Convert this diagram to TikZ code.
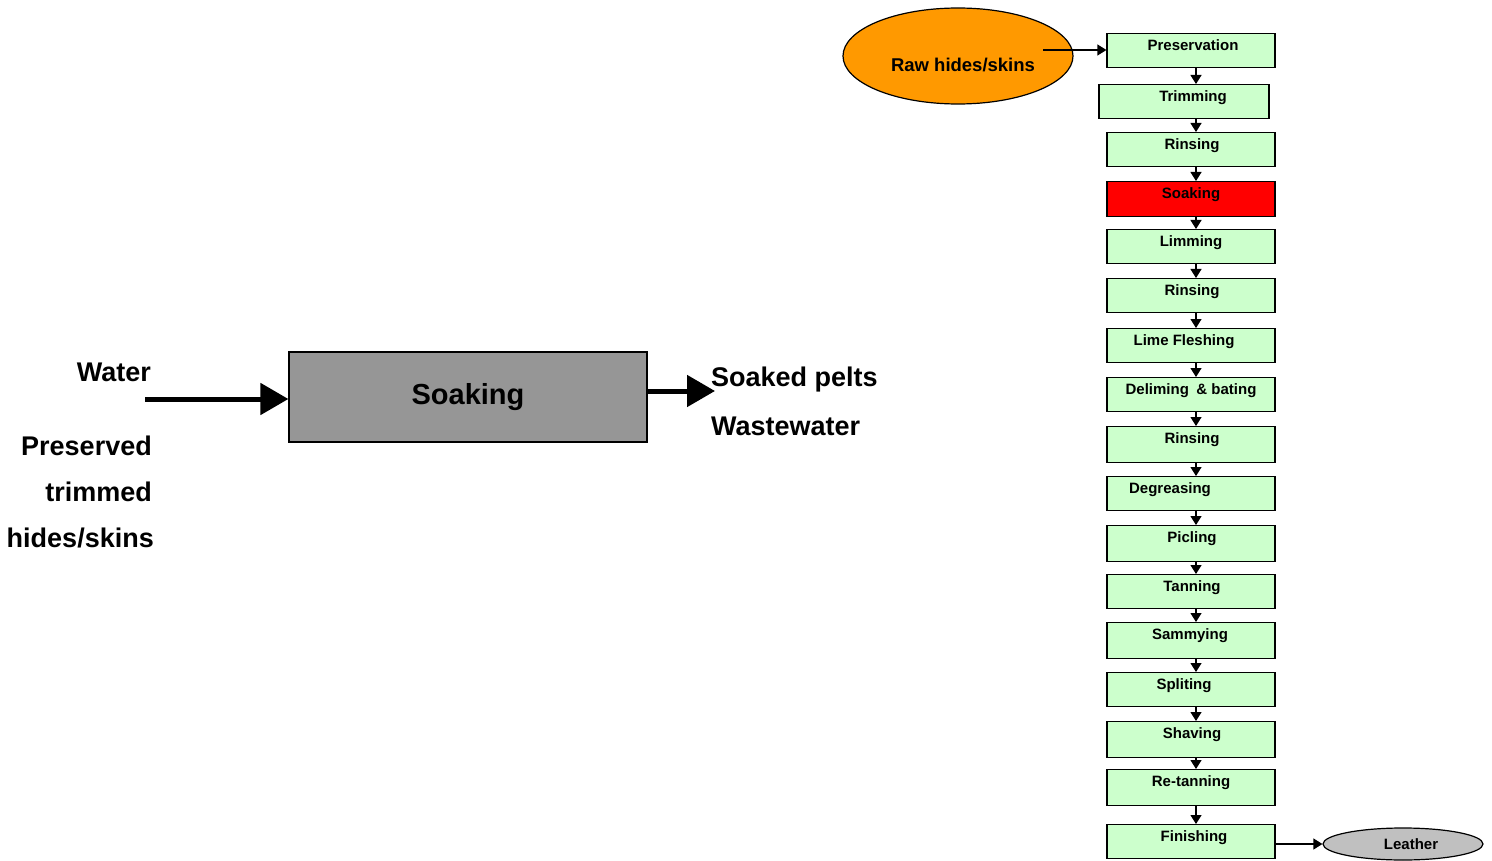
\documentclass[tikz,border=0pt]{standalone}
\usepackage{fontspec}
\setmainfont{Liberation Sans}
\usetikzlibrary{arrows.meta,shapes.geometric}
\definecolor{procgreen}{HTML}{CCFFCC}
\definecolor{raworange}{HTML}{FF9900}
\definecolor{soakgray}{HTML}{969696}
\definecolor{leathergray}{HTML}{C0C0C0}
\definecolor{hotred}{HTML}{FF0000}
\begin{document}
\begin{tikzpicture}[x=1pt,y=-1pt,
  stepbox/.style={draw=black, line width=1.2pt, fill=procgreen, minimum width=168pt,
    inner xsep=0pt, inner ysep=0pt, text height=17pt, text depth=#1, anchor=north,
    font=\fontsize{15}{18}\selectfont\bfseries},
  stepbox/.default=17pt,
  smallarrow/.style={line width=1.2pt, -{Triangle[width=11pt,length=9pt]}},
  bigarrow/.style={line width=5pt, -{Triangle[width=31pt,length=28pt]}},
  biglabel/.style={font=\fontsize{27}{30}\selectfont\bfseries, inner sep=0pt},
  ell/.style={ellipse, draw=black, line width=1.2pt, inner sep=0pt}]
\useasboundingbox (0,0) rectangle (1492,861);

% ---- left part ----
\node[draw=black, line width=1.2pt, fill=soakgray, minimum width=358pt, minimum height=90pt,
  inner sep=0pt, font=\fontsize{29}{32}\selectfont\bfseries] (soak) at (468,397) {Soaking};
\coordinate (win) at (145,399);
\coordinate (wout) at (715,391);
\draw[bigarrow] (win) -- (soak.west |- win);
\draw[bigarrow] (soak.east |- wout) -- (wout);

\node[biglabel, anchor=base east] (water) at (151,381) {Water};
\node[biglabel, anchor=base east] (pres) at (152,455) {Preserved};
\node[biglabel, anchor=base east] (trim) at (152,501) {trimmed};
\node[biglabel, anchor=base east] (hides) at (154,547) {hides/skins};
\node[biglabel, anchor=base west] (pelts) at (711,386) {Soaked pelts};
\node[biglabel, anchor=base west] (waste) at (711,435) {Wastewater};

% ---- right part: process chain ----
\node[stepbox] (b1) at (1191,33) {\hspace*{4pt}Preservation};
\node[stepbox, minimum width=170pt] (b2) at (1184,84) {\hspace*{18pt}Trimming};
\node[stepbox] (b3) at (1191,132) {\hspace*{2pt}Rinsing};
\node[stepbox=18pt, fill=hotred] (b4) at (1191,181) {Soaking};
\node[stepbox] (b5) at (1191,229) {Limming};
\node[stepbox] (b6) at (1191,278) {\hspace*{2pt}Rinsing};
\node[stepbox] (b7) at (1191,328) {Lime Fleshing\hspace*{14pt}};
\node[stepbox] (b8) at (1191,377) {Deliming\enspace\& bating};
\node[stepbox=19pt] (b9) at (1191,426) {\hspace*{2pt}Rinsing};
\node[stepbox] (b10) at (1191,476) {Degreasing\hspace*{42pt}};
\node[stepbox=19pt] (b11) at (1191,525) {\hspace*{2pt}Picling};
\node[stepbox] (b12) at (1191,574) {\hspace*{2pt}Tanning};
\node[stepbox=19pt] (b13) at (1191,622) {Sammying\hspace*{2pt}};
\node[stepbox] (b14) at (1191,672) {Spliting\hspace*{14pt}};
\node[stepbox=19pt] (b15) at (1191,721) {\hspace*{2pt}Shaving};
\node[stepbox=19pt] (b16) at (1191,769) {Re-tanning};
\node[stepbox] (b17) at (1191,824) {\hspace*{6pt}Finishing};

\coordinate (ax) at (1196,0);
\foreach \a/\b in {b1/b2,b2/b3,b3/b4,b4/b5,b5/b6,b6/b7,b7/b8,b8/b9,b9/b10,b10/b11,b11/b12,b12/b13,b13/b14,b14/b15,b15/b16,b16/b17}
  \draw[smallarrow] (\a.south -| ax) -- (\b.north -| ax);

% ---- raw hides ellipse ----
\node[ell, fill=raworange, minimum width=230pt, minimum height=96pt,
  font=\fontsize{18.5}{22}\selectfont\bfseries, text height=32pt, text depth=0pt] (raw) at (958,56)
  {\hspace*{10pt}Raw hides/skins};
\coordinate (rawout) at (1043,50);
\draw[smallarrow] (rawout) -- (b1.west |- rawout);

% ---- leather ellipse ----
\node[ell, fill=leathergray, minimum width=160pt, minimum height=32pt,
  font=\fontsize{15}{18}\selectfont\bfseries] (leather) at (1403,844) {\hspace*{16pt}Leather};
\draw[smallarrow] (b17.east |- leather.west) -- (leather.west);
\end{tikzpicture}
\end{document}
